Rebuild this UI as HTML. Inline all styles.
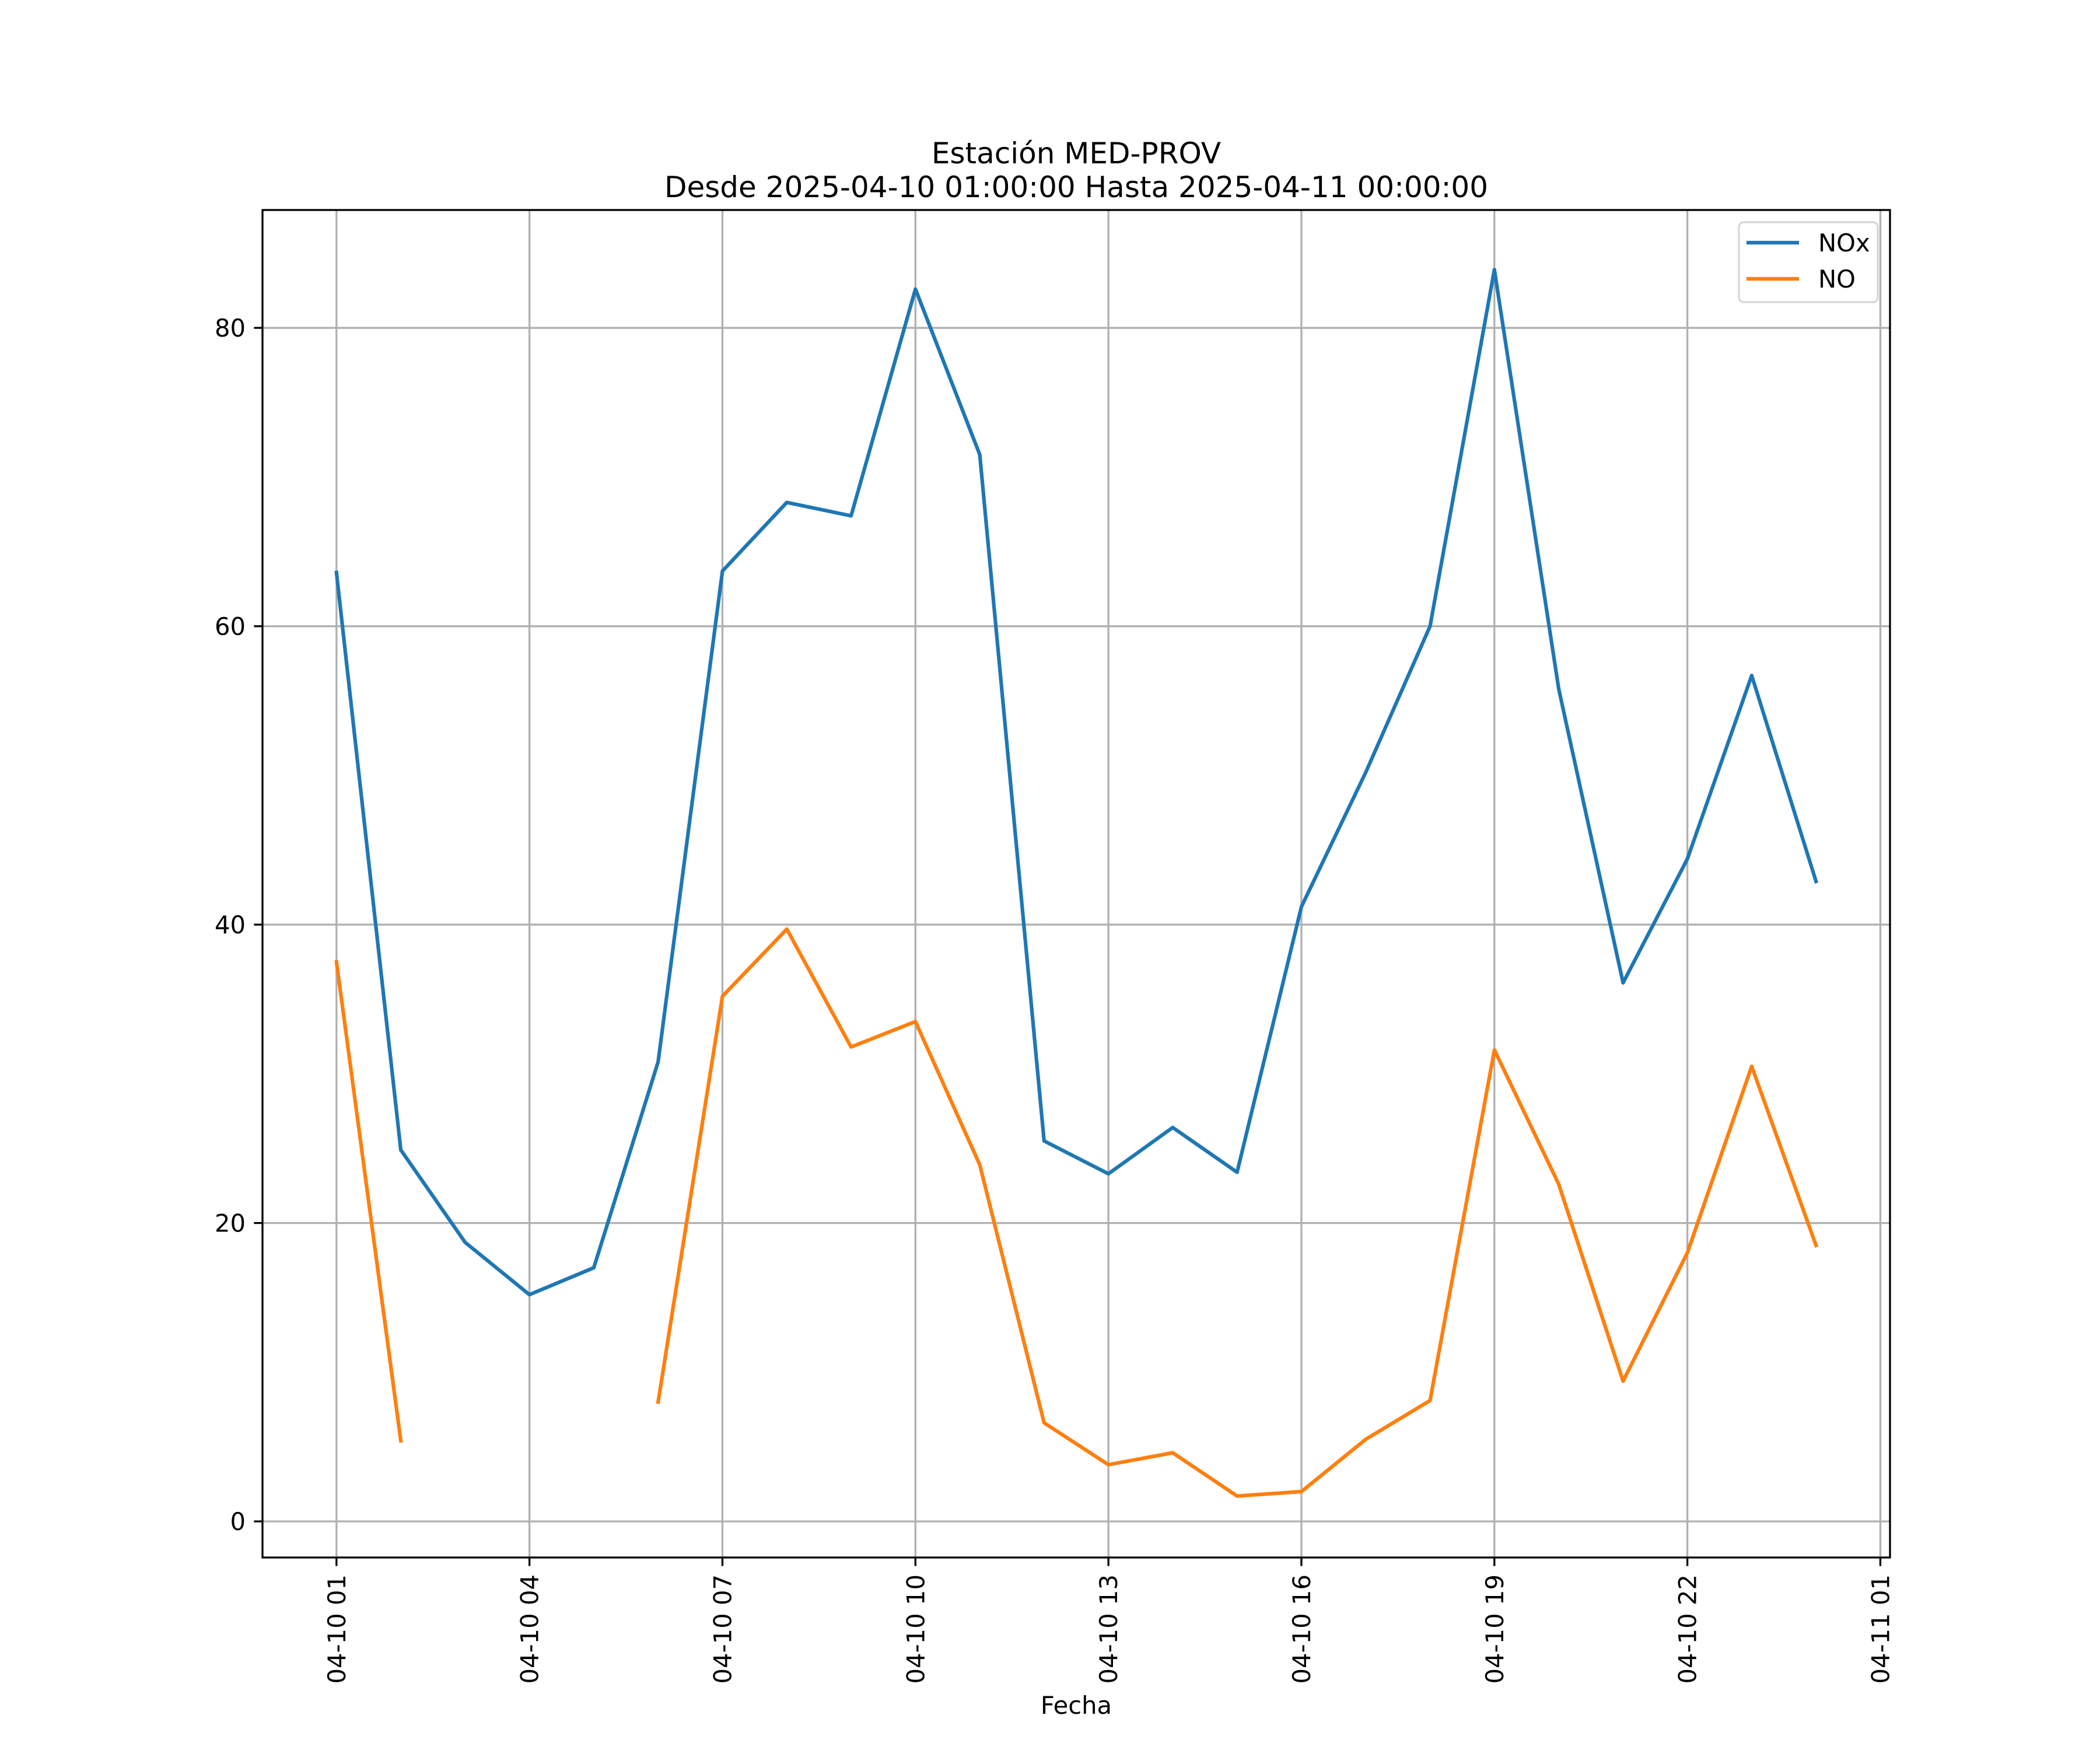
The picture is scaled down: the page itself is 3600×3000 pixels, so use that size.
<!DOCTYPE html>
<html><head><meta charset="utf-8"><style>
html,body{margin:0;padding:0;background:#fff;}
svg{display:block;font-family:"DejaVu Sans","Liberation Sans",sans-serif;}
</style></head><body>
<svg id="chart" width="3600" height="3000" viewBox="0 0 3600 3000" xmlns="http://www.w3.org/2000/svg">
<rect x="0" y="0" width="3600" height="3000" fill="#fff"/>
<text x="1845" y="280" font-size="50" text-anchor="middle">Estación MED-PROV</text>
<text x="1845" y="338" font-size="50" text-anchor="middle">Desde 2025-04-10 01:00:00 Hasta 2025-04-11 00:00:00</text>
<g id="grid"></g>
<g id="series"></g>
<g id="axes"></g>
<text x="1845" y="2938" font-size="41.7" text-anchor="middle">Fecha</text>
<g>
<rect x="2981" y="381" width="238" height="137" rx="8" fill="#fff" fill-opacity="0.8" stroke="#d6d6d6" stroke-width="3.3"/>
<g>
<line x1="2994" y1="416" x2="3084" y2="416" stroke="#1f77b4" stroke-width="6.25"/>
<text x="3117" y="431" font-size="41.7">NOx</text></g>
<g>
<line x1="2994" y1="478" x2="3084" y2="478" stroke="#ff7f0e" stroke-width="6.25"/>
<text x="3117" y="493" font-size="41.7">NO</text></g>
</g>
</svg>
<script>
const hours = [0,1,2,3,4,5,6,7,8,9,10,11,12,13,14,15,16,17,18,19,20,21,22,23];
const noxValues = [63.6,24.9,18.7,15.2,17.0,30.8,63.7,68.3,67.4,82.6,71.5,25.5,23.3,26.4,23.4,41.2,50.2,60.0,83.9,55.8,36.1,44.4,56.7,42.9];
const noValues = [37.5,5.4,null,null,null,8.0,35.2,39.7,31.8,33.5,23.9,6.6,3.8,4.6,1.7,2.0,5.5,8.1,31.6,22.6,9.4,18.0,30.5,18.5];
const xTickHours = [0,3,6,9,12,15,18,21,24];
const xTickLabels = ["04-10 01","04-10 04","04-10 07","04-10 10","04-10 13","04-10 16","04-10 19","04-10 22","04-11 01"];
const yTicks = [0,20,40,60,80];

const L=450,R=3240,T=360,B=2670;
const xMin=-1.15,xMax=24.15,yMin=-2.42,yMax=87.9;
const NS="http://www.w3.org/2000/svg";
function xs(h){return L+(h-xMin)/(xMax-xMin)*(R-L);}
function ys(v){return B-(v-yMin)/(yMax-yMin)*(B-T);}
function mk(tag,attrs,parent){const e=document.createElementNS(NS,tag);for(const k in attrs)e.setAttribute(k,attrs[k]);parent.appendChild(e);return e;}
const grid=document.getElementById('grid'),axes=document.getElementById('axes'),series=document.getElementById('series');

xTickHours.forEach((h,i)=>{
  const x=xs(h);
  const g=mk('line',{x1:x,y1:T,x2:x,y2:B,stroke:'#b0b0b0','stroke-width':3.3},grid);
  
  
  const t=mk('line',{x1:x,y1:B,x2:x,y2:B+14.6,stroke:'#000','stroke-width':3.3},axes);
  
  
  const lb=mk('text',{x:0,y:0,'font-size':41.7,'text-anchor':'end',transform:`translate(${x+15},${B+29}) rotate(-90)`},axes);
  lb.textContent=xTickLabels[i];
  
  
});
yTicks.forEach(v=>{
  const y=ys(v);
  const g=mk('line',{x1:L,y1:y,x2:R,y2:y,stroke:'#b0b0b0','stroke-width':3.3},grid);
  
  
  const t=mk('line',{x1:L-14.6,y1:y,x2:L,y2:y,stroke:'#000','stroke-width':3.3},axes);
  
  
  const lb=mk('text',{x:L-29,y:y+15,'font-size':41.7,'text-anchor':'end'},axes);
  lb.textContent=String(v);
  
  
});
const frame=mk('rect',{x:L,y:T,width:R-L,height:B-T,fill:'none',stroke:'#000','stroke-width':3.3},axes);



function drawSeries(vals,color,name){
  let d='',pen=false;
  vals.forEach((v,i)=>{
    if(v===null){pen=false;return;}
    d+=(pen?'L':'M')+xs(hours[i]).toFixed(1)+' '+ys(v).toFixed(1)+' ';
    pen=true;
  });
  const p=mk('path',{d:d,fill:'none',stroke:color,'stroke-width':6.25,'stroke-linejoin':'round','stroke-linecap':'square'},series);
  
  
}
drawSeries(noxValues,'#1f77b4','nox-line');
drawSeries(noValues,'#ff7f0e','no-line');
</script>
</body></html>
